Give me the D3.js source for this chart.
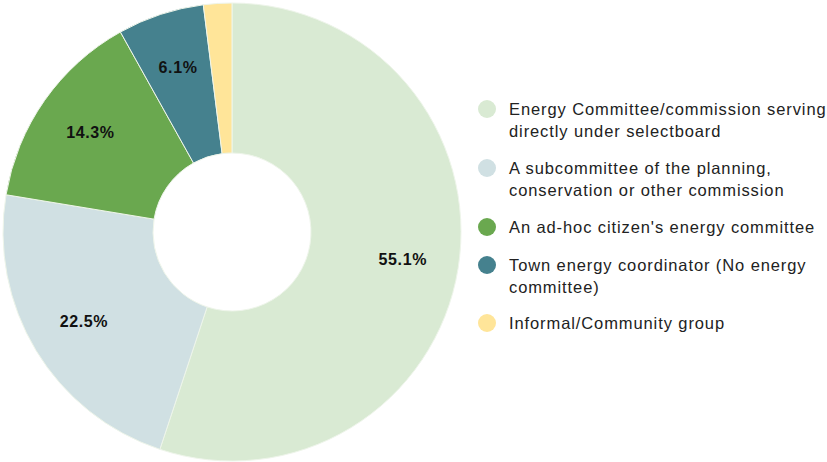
<!DOCTYPE html>
<html>
<head>
<meta charset="utf-8">
<script src="https://cdn.jsdelivr.net/npm/d3@7"></script>
<style>
  html, body { margin: 0; padding: 0; background: #fff; }
  svg { display: block; font-family: "Liberation Sans", Arial, sans-serif; }
</style>
</head>
<body>
<svg id="chart" width="827" height="462"></svg>
<script>
const categories = [
  "Energy Committee/commission serving directly under selectboard",
  "A subcommittee of the planning, conservation or other commission",
  "An ad-hoc citizen's energy committee",
  "Town energy coordinator (No energy committee)",
  "Informal/Community group"
];
const legendLines = [
  ["Energy Committee/commission serving", "directly under selectboard"],
  ["A subcommittee of the planning,", "conservation or other commission"],
  ["An ad-hoc citizen's energy committee"],
  ["Town energy coordinator (No energy", "committee)"],
  ["Informal/Community group"]
];
const values = [55.1, 22.5, 14.3, 6.1, 2.0];
const colors = ["#d9ead3", "#d0e0e3", "#6aa84f", "#45818e", "#ffe599"];

const svg = d3.select("#chart");
const cx = 232, cy = 232, outerR = 229, innerR = 79, labelR = 173;

const pie = d3.pie().sort(null).value(d => d)(values);
const arc = d3.arc().innerRadius(innerR).outerRadius(outerR);
const labelArc = d3.arc().innerRadius(labelR).outerRadius(labelR);

const g = svg.append("g").attr("transform", `translate(${cx},${cy})`);
g.selectAll("path").data(pie).join("path")
  .attr("d", arc)
  .attr("fill", (d, i) => colors[i])
  .attr("stroke", "#eef5ea")
  .attr("stroke-width", 1);

g.selectAll("text.lbl").data(pie.filter(d => d.data >= 5)).join("text")
  .attr("class", "lbl")
  .attr("transform", d => `translate(${labelArc.centroid(d)})`)
  .attr("text-anchor", "middle")
  .attr("dy", "0.35em")
  .attr("font-size", 16)
  .attr("font-weight", "bold")
  .attr("letter-spacing", 0.6)
  .attr("fill", "#111")
  .text(d => d.data.toFixed(1) + "%");

const legendY = [109, 168, 227, 265, 323];
const leg = svg.append("g");
legendLines.forEach((lines, i) => {
  const item = leg.append("g").attr("transform", `translate(487,${legendY[i]})`);
  item.append("circle").attr("r", 9).attr("fill", colors[i]);
  lines.forEach((t, j) => {
    item.append("text")
      .attr("x", 22)
      .attr("y", j * 22)
      .attr("dy", "0.35em")
      .attr("font-size", 16.5)
      .attr("letter-spacing", 0.9)
      .attr("fill", "#222")
      .text(t);
  });
});
</script>
</body>
</html>
